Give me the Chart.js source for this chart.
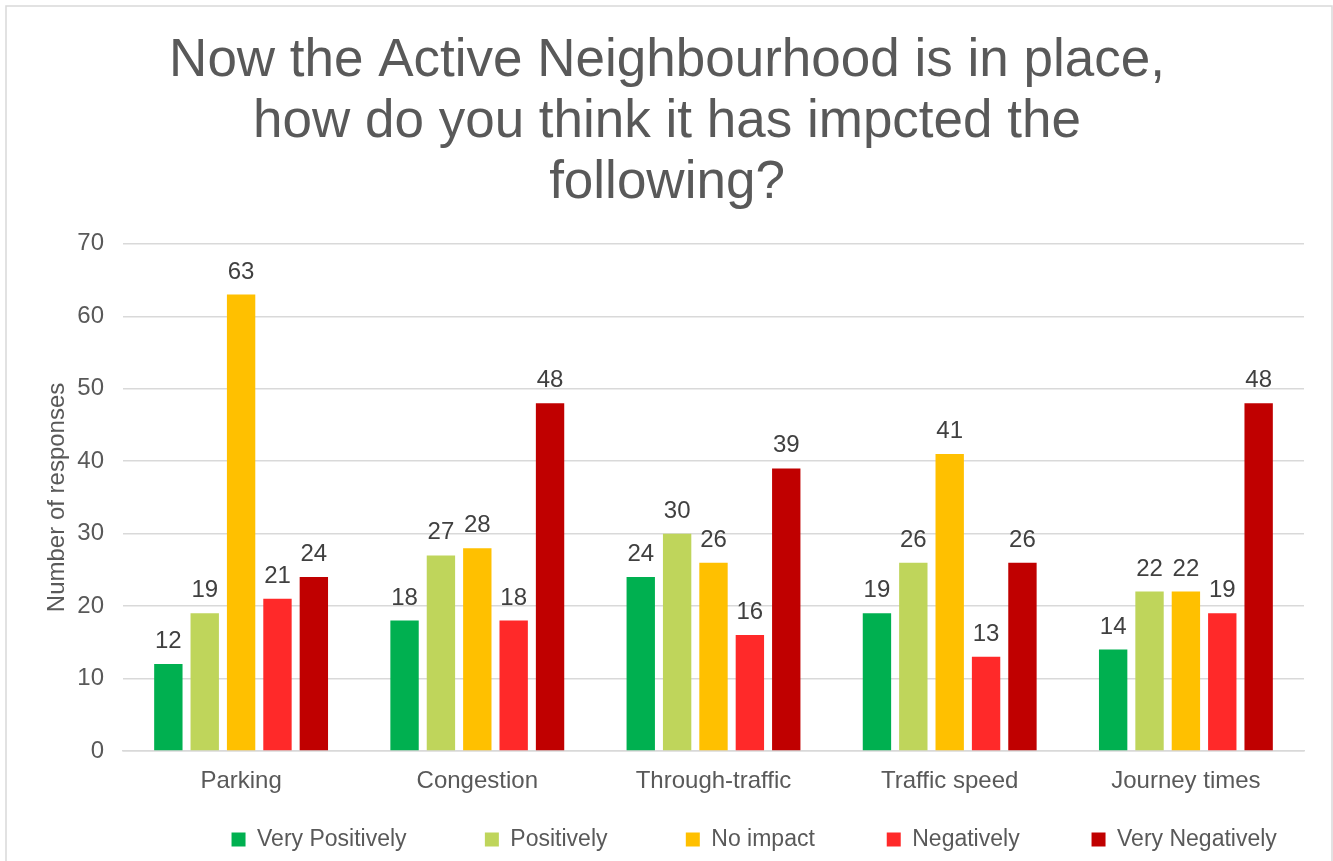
<!DOCTYPE html>
<html>
<head>
  <title>Active Neighbourhood Impact</title>
  <style>
    body {
      margin: 0;
      padding: 0;
      background-color: #ffffff;
    }

    .chart-container {
      width: 1333px;
      height: 861px;
    }
  </style>
  <script src="https://cdn.jsdelivr.net/npm/chart.js"></script>
</head>
<body>
<div class="chart-container">
  <canvas id="impactChart"></canvas>
</div>

<script>
  // Chart data
  const categories = ['Parking', 'Congestion', 'Through-traffic', 'Traffic speed', 'Journey times'];
  const seriesNames = ['Very Positively', 'Positively', 'No impact', 'Negatively', 'Very Negatively'];
  const veryPositively = [12, 18, 24, 19, 14];
  const positively = [19, 27, 30, 26, 22];
  const noImpact = [63, 28, 26, 41, 22];
  const negatively = [21, 18, 16, 13, 19];
  const veryNegatively = [24, 48, 39, 26, 48];
  const yTicks = [0, 10, 20, 30, 40, 50, 60, 70];

  const seriesColors = ['#00B050', '#BFD55B', '#FFC000', '#FF2929', '#C00000'];
  const seriesValues = [veryPositively, positively, noImpact, negatively, veryNegatively];

  const fontFamily = '"Liberation Sans", Arial, sans-serif';

  // trailing spaces after each legend entry, to spread them like the original
  const legendGaps = [11, 11, 10, 10, 3];

  // Draw value above each bar
  const valueLabels = {
    id: 'valueLabels',
    afterDatasetsDraw(chart) {
      const ctx = chart.ctx;
      ctx.save();
      ctx.font = '24px ' + fontFamily;
      ctx.fillStyle = '#404040';
      ctx.textAlign = 'center';
      ctx.textBaseline = 'alphabetic';
      chart.data.datasets.forEach((ds, i) => {
        chart.getDatasetMeta(i).data.forEach((bar, j) => {
          ctx.fillText(ds.data[j], bar.x, bar.y - 16);
        });
      });
      ctx.restore();
    }
  };

  // Light grey frame around the chart
  const chartFrame = {
    id: 'chartFrame',
    beforeDraw(chart) {
      const ctx = chart.ctx;
      ctx.save();
      ctx.strokeStyle = '#d9d9d9';
      ctx.lineWidth = 1.5;
      ctx.strokeRect(6, 6, chart.width - 7, chart.height + 10);
      ctx.restore();
    }
  };

  const impactChart = new Chart(document.getElementById('impactChart'), {
    type: 'bar',
    data: {
      labels: categories,
      datasets: seriesNames.map((name, i) => ({
        label: name,
        data: seriesValues[i],
        backgroundColor: seriesColors[i],
        categoryPercentage: 0.77,
        barPercentage: 0.78
      }))
    },
    options: {
      responsive: true,
      maintainAspectRatio: false,
      animation: false,
      layout: {
        padding: { left: 30, right: 29, top: 0, bottom: 0 }
      },
      plugins: {
        title: {
          display: true,
          text: ['Now the Active Neighbourhood is in place,', 'how do you think it has impcted the', 'following?'],
          color: '#595959',
          font: { family: fontFamily, size: 53, weight: 'normal', lineHeight: 1.15 },
          padding: { top: 31, bottom: 30 }
        },
        legend: {
          position: 'bottom',
          align: 'end',
          labels: {
            color: '#595959',
            font: { family: fontFamily, size: 23 },
            boxWidth: 14,
            boxHeight: 14,
            padding: 8,
            generateLabels: chart => {
              const items = Chart.defaults.plugins.legend.labels.generateLabels(chart);
              items.forEach((item, i) => {
                item.text = item.text + ' '.repeat(legendGaps[i]);
              });
              return items;
            }
          }
        },
        tooltip: { enabled: false }
      },
      scales: {
        x: {
          grid: { display: false },
          border: { color: '#d9d9d9', width: 1.5 },
          afterFit: scale => {
            scale.height = 69;
          },
          ticks: {
            color: '#595959',
            font: { family: fontFamily, size: 24 },
            padding: 8
          }
        },
        y: {
          min: 0,
          max: 70,
          afterBuildTicks: scale => {
            scale.ticks = yTicks.map(v => ({ value: v }));
          },
          afterFit: scale => {
            scale.width = 93;
          },
          grid: { color: '#d9d9d9', lineWidth: 1.5, drawTicks: false },
          border: { display: false },
          ticks: {
            color: '#595959',
            font: { family: fontFamily, size: 24 },
            padding: 19
          },
          title: {
            display: true,
            text: 'Number of responses',
            color: '#595959',
            font: { family: fontFamily, size: 24 },
            padding: { top: 13, bottom: 0 }
          }
        }
      }
    },
    plugins: [valueLabels, chartFrame]
  });
</script>

</body>
</html>
